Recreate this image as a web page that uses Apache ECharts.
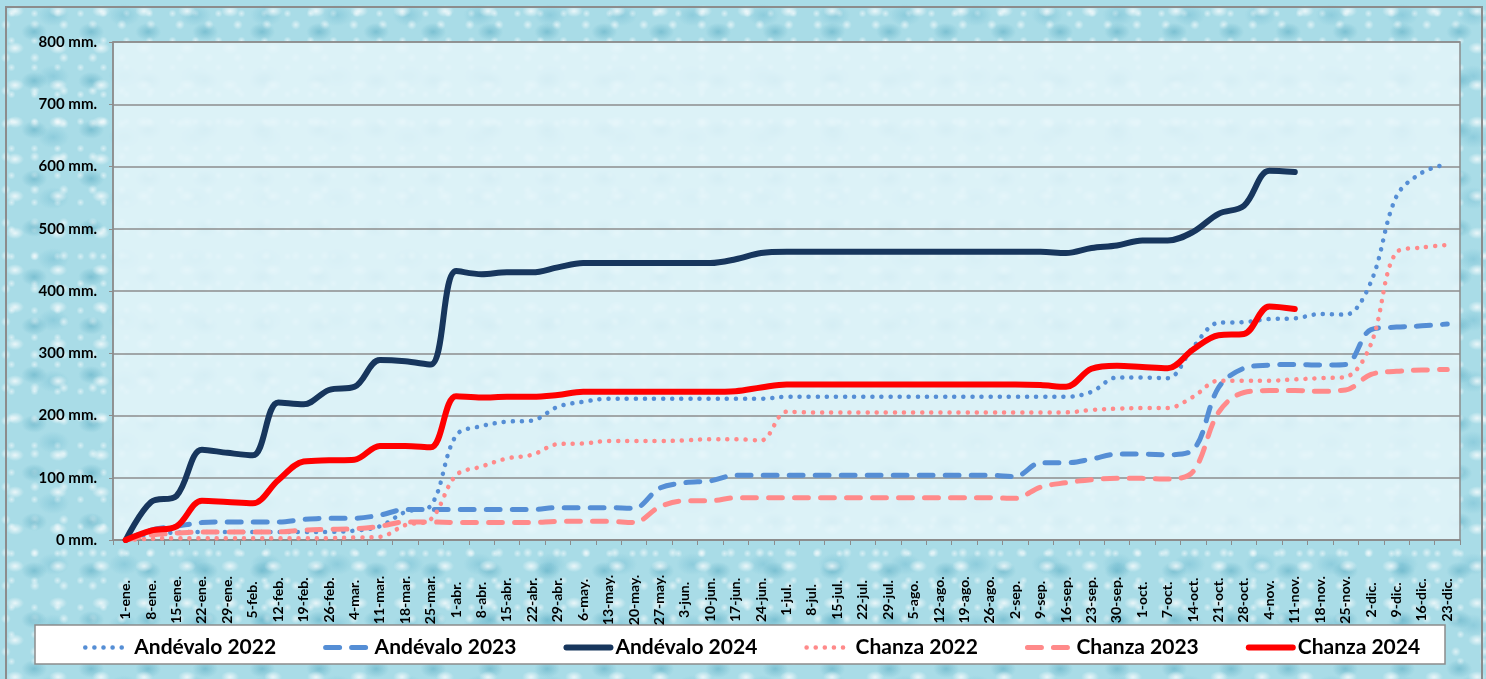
<!DOCTYPE html>
<html>
<head>
<meta charset="utf-8">
<title>Lluvia acumulada</title>
<script src="https://cdn.jsdelivr.net/npm/echarts@6/dist/echarts.min.js"></script>
<style>
    html, body {
        margin: 0;
        padding: 0;
        width: 1486px;
        height: 679px;
        overflow: hidden;
    }
    #fondo {
        position: absolute;
        left: 0;
        top: 0;
        width: 1486px;
        height: 679px;
        background-color: #a9dce7;
        background-image:
            radial-gradient(ellipse 9px 6px at 35% 30%, rgba(255,255,255,0.75), rgba(255,255,255,0) 100%),
            radial-gradient(ellipse 13px 9px at 60% 65%, rgba(70,160,185,0.45), rgba(70,160,185,0) 100%),
            radial-gradient(circle 5px at 20% 75%, rgba(255,255,255,0.6), rgba(255,255,255,0) 100%),
            radial-gradient(ellipse 16px 11px at 75% 25%, rgba(90,175,200,0.35), rgba(90,175,200,0) 100%),
            radial-gradient(circle 4px at 50% 50%, rgba(255,255,255,0.55), rgba(255,255,255,0) 100%);
        background-size: 43px 37px, 57px 49px, 29px 33px, 71px 61px, 23px 27px;
    }
    #marco {
        position: absolute;
        left: 5px;
        top: 6px;
        width: 1474px;
        height: 700px;
        border: 2px solid #8c8c8c;
    }
    #main {
        position: absolute;
        left: 0;
        top: 0;
        width: 1486px;
        height: 679px;
    }
</style>
</head>
<body>
<div id="fondo"></div>
<div id="marco"></div>
<div id="main"></div>
<script>
// semanas
var semanas = ['1-ene.', '8-ene.', '15-ene.', '22-ene.', '29-ene.', '5-feb.', '12-feb.', '19-feb.', '26-feb.',
    '4-mar.', '11-mar.', '18-mar.', '25-mar.', '1-abr.', '8-abr.', '15-abr.', '22-abr.', '29-abr.',
    '6-may.', '13-may.', '20-may.', '27-may.', '3-jun.', '10-jun.', '17-jun.', '24-jun.',
    '1-jul.', '8-jul.', '15-jul.', '22-jul.', '29-jul.', '5-ago.', '12-ago.', '19-ago.', '26-ago.',
    '2-sep.', '9-sep.', '16-sep.', '23-sep.', '30-sep.', '1-oct.', '7-oct.', '14-oct.', '21-oct.', '28-oct.',
    '4-nov.', '11-nov.', '18-nov.', '25-nov.', '2-dic.', '9-dic.', '16-dic.', '23-dic.'];

var andevalo2022 = [0, 10, 12, 13, 13, 13, 13, 13, 13, 15, 22, 45, 55, 168, 183, 190, 192, 214,
    222, 227, 227, 227, 227, 227, 227, 227, 230, 230, 230, 230, 230, 230, 230, 230, 230,
    230, 230, 230, 238, 261, 261, 260, 310, 349, 350, 355, 356, 363, 362, 415, 552, 590, 604];

var andevalo2023 = [0, 16, 22, 28, 29, 29, 29, 33, 35, 35, 40, 49, 49, 49, 49, 49, 49, 52,
    52, 52, 51, 83, 92, 95, 104, 104, 104, 104, 104, 104, 104, 104, 104, 104, 104,
    102, 124, 124, 130, 138, 138, 137, 145, 245, 276, 281, 282, 281, 282, 338, 342, 344, 347];

var andevalo2024 = [0, 61, 71, 145, 140, 136, 221, 218, 241, 246, 289, 287, 282, 432, 427, 430, 430, 438,
    445, 445, 445, 445, 445, 445, 451, 461, 463, 463, 463, 463, 463, 463, 463, 463, 463,
    463, 463, 461, 469, 473, 481, 481, 495, 524, 537, 593, 591];

var chanza2022 = [0, 2, 3, 3, 3, 3, 3, 3, 3, 4, 5, 24, 33, 104, 118, 131, 137, 154,
    155, 159, 159, 159, 160, 162, 162, 160, 206, 205, 205, 205, 205, 205, 205, 205, 205,
    205, 205, 205, 209, 211, 212, 212, 230, 256, 256, 256, 258, 260, 262, 315, 462, 470, 474];

var chanza2023 = [0, 8, 11, 13, 13, 13, 13, 16, 17, 18, 22, 29, 29, 28, 28, 28, 28, 30,
    30, 30, 28, 53, 63, 63, 68, 68, 68, 68, 68, 68, 68, 68, 68, 68, 68,
    67, 85, 92, 97, 99, 99, 98, 110, 205, 237, 240, 240, 239, 241, 266, 271, 273, 274];

var chanza2024 = [0, 15, 22, 63, 61, 59, 96, 126, 128, 129, 151, 151, 149, 231, 229, 230, 230, 233,
    238, 238, 238, 238, 238, 238, 239, 245, 250, 250, 250, 250, 250, 250, 250, 250, 250,
    250, 249, 246, 275, 280, 278, 276, 306, 329, 331, 375, 371];

var nombres = ['Andévalo 2022', 'Andévalo 2023', 'Andévalo 2024', 'Chanza 2022', 'Chanza 2023', 'Chanza 2024'];

var fuente = 'Lato, "Open Sans", sans-serif';

function crearSerie(nombre, datos, color, tipo, ancho) {
    return {
        name: nombre,
        type: 'line',
        data: datos,
        smooth: 0.35,
        symbol: 'none',
        lineStyle: {
            color: color,
            width: ancho,
            type: tipo,
            cap: 'round',
            join: 'round'
        },
        itemStyle: {color: color}
    };
}

var chart = echarts.init(document.getElementById('main'));

var option = {
    backgroundColor: 'transparent',
    animation: false,
    textStyle: {fontFamily: fuente},
    grid: {
        left: 113,
        right: 26,
        top: 42,
        bottom: 139,
        show: true,
        backgroundColor: 'rgba(228,245,249,0.87)',
        borderColor: '#8c8c8c',
        borderWidth: 1.5
    },
    graphic: [{
        type: 'rect',
        z: -1,
        shape: {x: 35, y: 625, width: 1410, height: 39},
        style: {fill: '#ffffff', stroke: '#8c8c8c', lineWidth: 1.5}
    }],
    legend: {
        data: nombres,
        left: 78,
        top: 632,
        itemWidth: 44,
        itemHeight: 14,
        itemGap: 47,
        // solo la linea, sin simbolo
        itemStyle: {opacity: 0, color: 'rgba(0,0,0,0)', borderWidth: 0},
        lineStyle: {width: 'inherit'},
        textStyle: {
            fontFamily: fuente,
            fontSize: 21,
            fontWeight: 'bold',
            color: '#000'
        }
    },
    xAxis: {
        type: 'category',
        data: semanas,
        boundaryGap: true,
        axisLine: {lineStyle: {color: '#8c8c8c', width: 1.5}},
        axisTick: {show: true, length: 5, lineStyle: {color: '#8c8c8c'}},
        axisLabel: {
            interval: 0,
            rotate: 90,
            align: 'center',
            verticalAlign: 'middle',
            margin: 60,
            color: '#000',
            fontFamily: fuente,
            fontSize: 14,
            fontWeight: 'bold'
        },
        splitLine: {show: false}
    },
    yAxis: {
        type: 'value',
        min: 0,
        max: 800,
        interval: 100,
        axisLine: {show: true, lineStyle: {color: '#8c8c8c', width: 1.5}},
        axisTick: {show: true, length: 4, lineStyle: {color: '#8c8c8c'}},
        axisLabel: {
            formatter: '{value} mm.',
            color: '#000',
            fontFamily: fuente,
            fontSize: 15,
            fontWeight: 'bold',
            margin: 16
        },
        splitLine: {lineStyle: {color: '#8c8c8c', width: 1.5}}
    },
    series: [
        crearSerie(nombres[0], andevalo2022, '#558ed5', [0.1, 9], 4.5),
        crearSerie(nombres[1], andevalo2023, '#558ed5', [14, 12], 5),
        crearSerie(nombres[2], andevalo2024, '#17365d', 'solid', 6),
        crearSerie(nombres[3], chanza2022, '#ff8a8a', [0.1, 9], 4.5),
        crearSerie(nombres[4], chanza2023, '#ff8a8a', [14, 12], 5),
        crearSerie(nombres[5], chanza2024, '#ff0000', 'solid', 6)
    ]
};

chart.setOption(option);
</script>
</body>
</html>
